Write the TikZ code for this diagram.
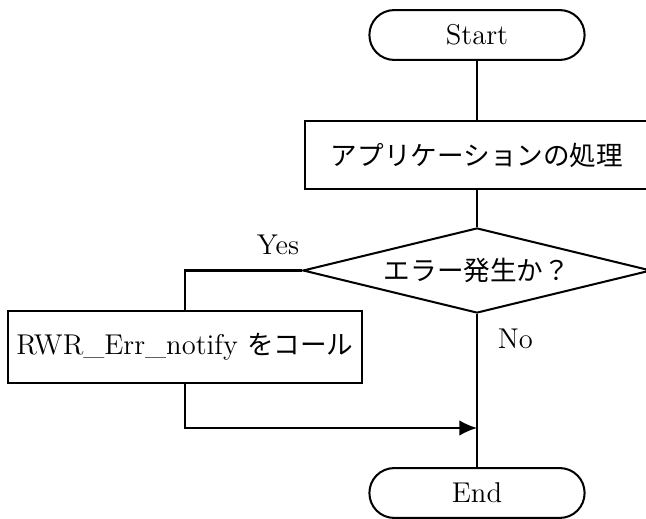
\documentclass[tikz,border=0pt]{standalone}
\usepackage{fontspec}
\newfontfamily\jpfont{Noto Sans CJK JP}[Scale=0.93]
\usepackage{tikz}
\usetikzlibrary{shapes.geometric, arrows.meta}

\begin{document}
\begin{tikzpicture}[x=0.395pt, y=-0.395pt, >={Latex[length=7pt,width=6.2pt]},
        every node/.style={font=\fontsize{11.3}{13}\selectfont},
        term/.style={draw, line width=0.8pt, rectangle, rounded corners=9.8pt,
            minimum width=85pt, minimum height=19.7pt, inner sep=0pt},
        proc/.style={draw, line width=0.8pt, rectangle, inner sep=0pt},
        cond/.style={draw, line width=0.8pt, diamond, aspect=4, inner sep=0pt,
            minimum width=137.5pt, minimum height=33.6pt},
        flow/.style={line width=0.8pt}]
                \useasboundingbox (0,0) rectangle (646,519);
                % boxes
                \node[term] (start) at (477,35) {Start};
                \node[proc, minimum width=135.9pt, minimum height=26.9pt] (app) at (477,155) {\jpfont アプリケーションの処理};
                \node[cond] (check) at (477,270.5) {\jpfont エラー発生か？};
                \node[proc, minimum width=139.8pt, minimum height=28.4pt] (notify) at (185,347) {RWR\_Err\_notify {\jpfont をコール}};
                \node[term] (end) at (477,493) {End};
                % labels
                \node (yes) at (278,245) {Yes};
                \node[anchor=west] (no) at (489,339) {No};
                \coordinate (join) at (check.south |- 0,428);
                % lines
                \draw[flow] (start) -- (app);
                \draw[flow] (app) -- (check);
                \draw[flow] (check.west) -| (notify.north);
                \draw[flow] (check) -- (end);
                \draw[flow, ->] (notify.south) |- (join);
            \end{tikzpicture}
\end{document}
